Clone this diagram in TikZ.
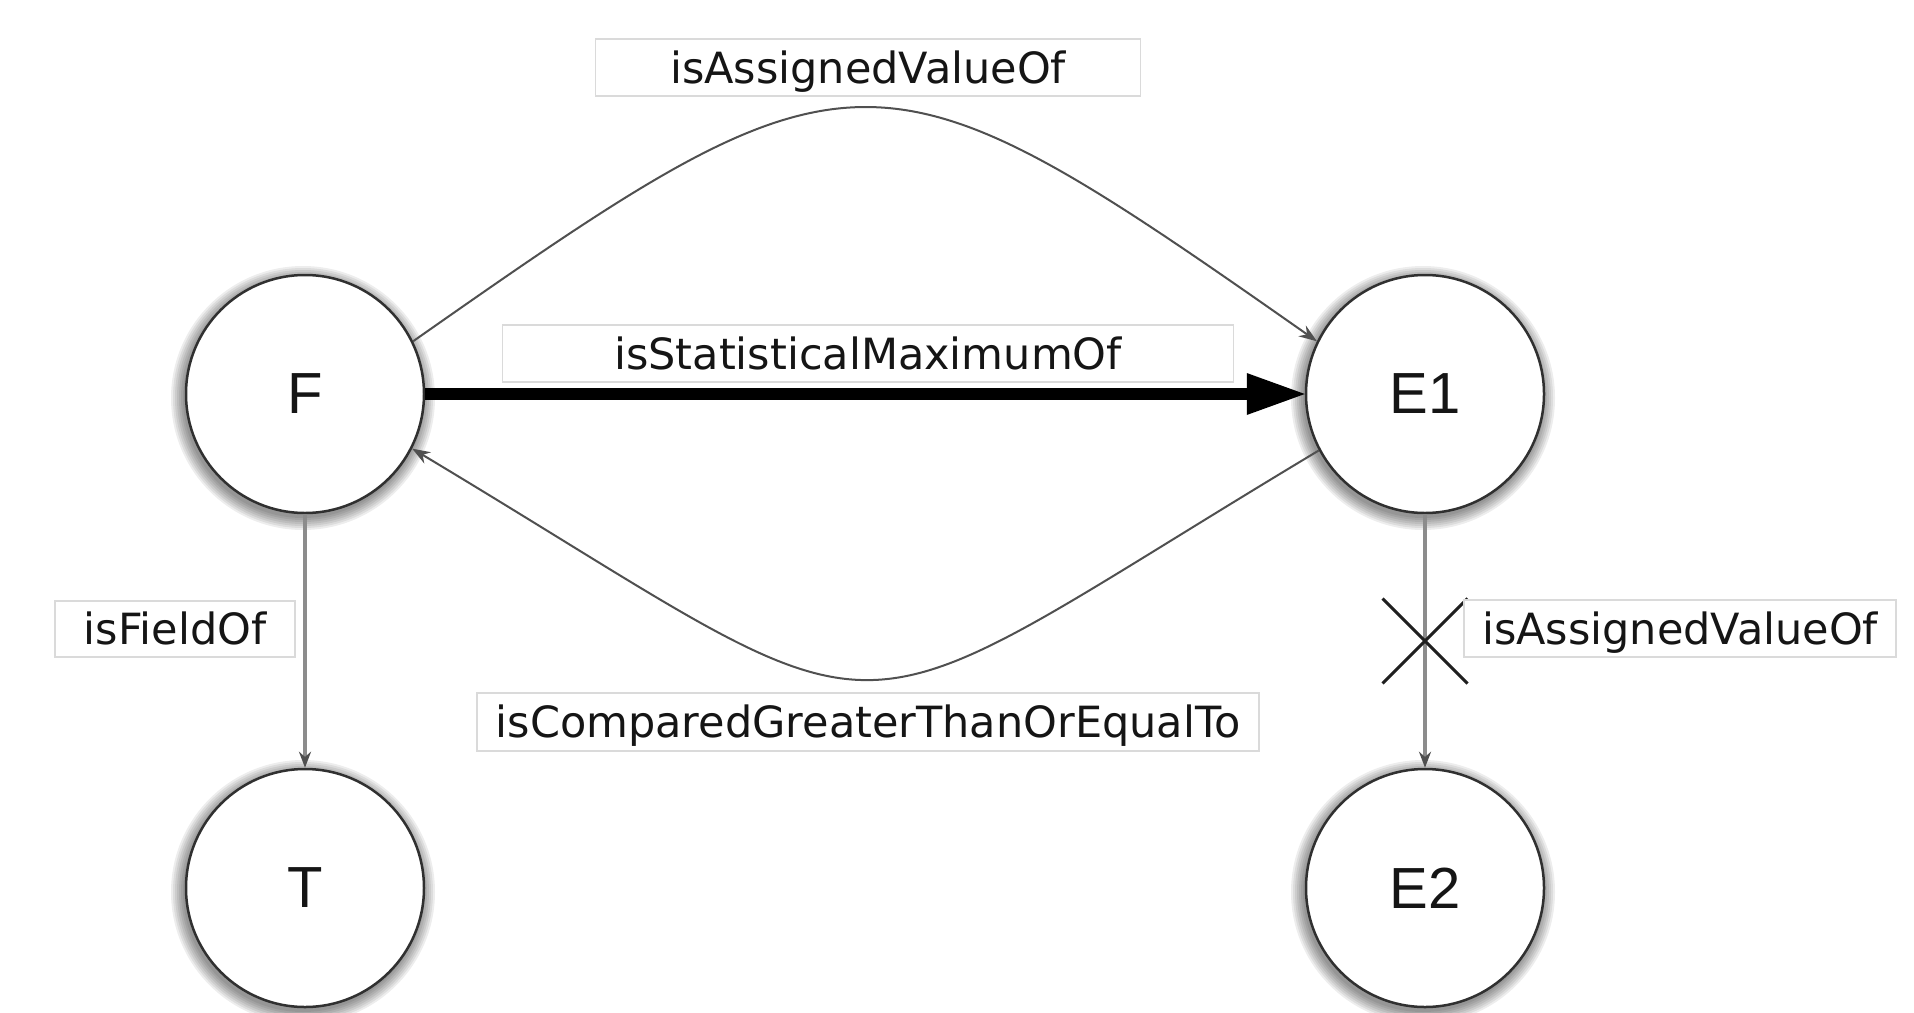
\documentclass[tikz,border=0pt]{standalone}
\usepackage{fontspec}
\newfontfamily\lblfont{DejaVu Sans}
\newfontfamily\entfont{Liberation Sans}
\usetikzlibrary{arrows.meta,shapes.misc,backgrounds}
\definecolor{rim}{HTML}{303030}
\definecolor{thinln}{HTML}{505050}
\definecolor{vln}{HTML}{8C8C8C}
\definecolor{boxln}{HTML}{DADADA}
\definecolor{txt}{HTML}{151515}
\tikzset{
  entity/.style={circle, draw=rim, line width=2.5pt, fill=white, minimum size=238pt,
    inner sep=0pt, text=txt, font=\entfont\fontsize{58}{60}\selectfont},
  lbl/.style={draw=boxln, line width=1.5pt, fill=white, inner sep=0pt, text=txt,
    text height=31pt, text depth=0pt, font=\lblfont\fontsize{43}{46}\selectfont},
  thinarrow/.style={draw=thinln, line width=2pt, -{Stealth[length=18pt,width=13pt,color=thinln]}},
  vertarrow/.style={draw=vln, line width=3.5pt, -{Stealth[length=16pt,width=12pt,color=thinln]}},
  heavyarrow/.style={draw=black, line width=12pt, -{Triangle[length=58pt,width=42pt,line width=0pt]}},
  crossmark/.style={cross out, draw=black!88, line width=3pt, minimum size=82pt, inner sep=0pt},
  shadowring/.style={fill=black, opacity=0.07},
}
\begin{document}
\begin{tikzpicture}[x=1pt,y=-1pt]
\useasboundingbox (0,0) rectangle (1914,1012);

% entities
\node[entity] (F)  at (305,394) {F};
\node[entity] (E1) at (1425,394) {E1};
\node[entity] (T)  at (305,888) {T};
\node[entity] (E2) at (1425,888) {E2};

% page and soft shadows
\begin{scope}[on background layer]
  \fill[white] (0,0) rectangle (1914,1012);
  \foreach \n in {F,E1,T,E2}{
    \foreach \k in {1,3,...,13}{
      \fill[shadowring] ([xshift=-2pt,yshift=-4pt]\n.center) circle[radius=119pt+\k pt];
    }
  }
\end{scope}

% connectors
\draw[thinarrow] (F.26) .. controls (857,30) and (873,30) .. (E1.154);
\draw[heavyarrow] (F.east) -- (E1.west);
\draw[thinarrow] (E1.208) .. controls (809,756) and (925,756) .. (F.333);
\draw[vertarrow] (F.south) -- (T.north);
\draw[vertarrow] (E1.south) -- (E2.north) node[crossmark, midway] (X) {};

% labels
\node[lbl, minimum width=545pt, minimum height=57pt] (l1) at (868,67.5) {isAssignedValueOf};
\node[lbl, minimum width=731pt, minimum height=57pt] (l2) at (868,353.5) {isStatisticalMaximumOf};
\node[lbl, minimum width=782pt, minimum height=58pt] (l3) at (868,722) {isComparedGreaterThanOrEqualTo};
\node[lbl, minimum width=240pt, minimum height=56pt] (l4) at (175,629) {isFieldOf};
\node[lbl, minimum width=432pt, minimum height=57pt] (l5) at (1680,628.5) {isAssignedValueOf};
\end{tikzpicture}
\end{document}
